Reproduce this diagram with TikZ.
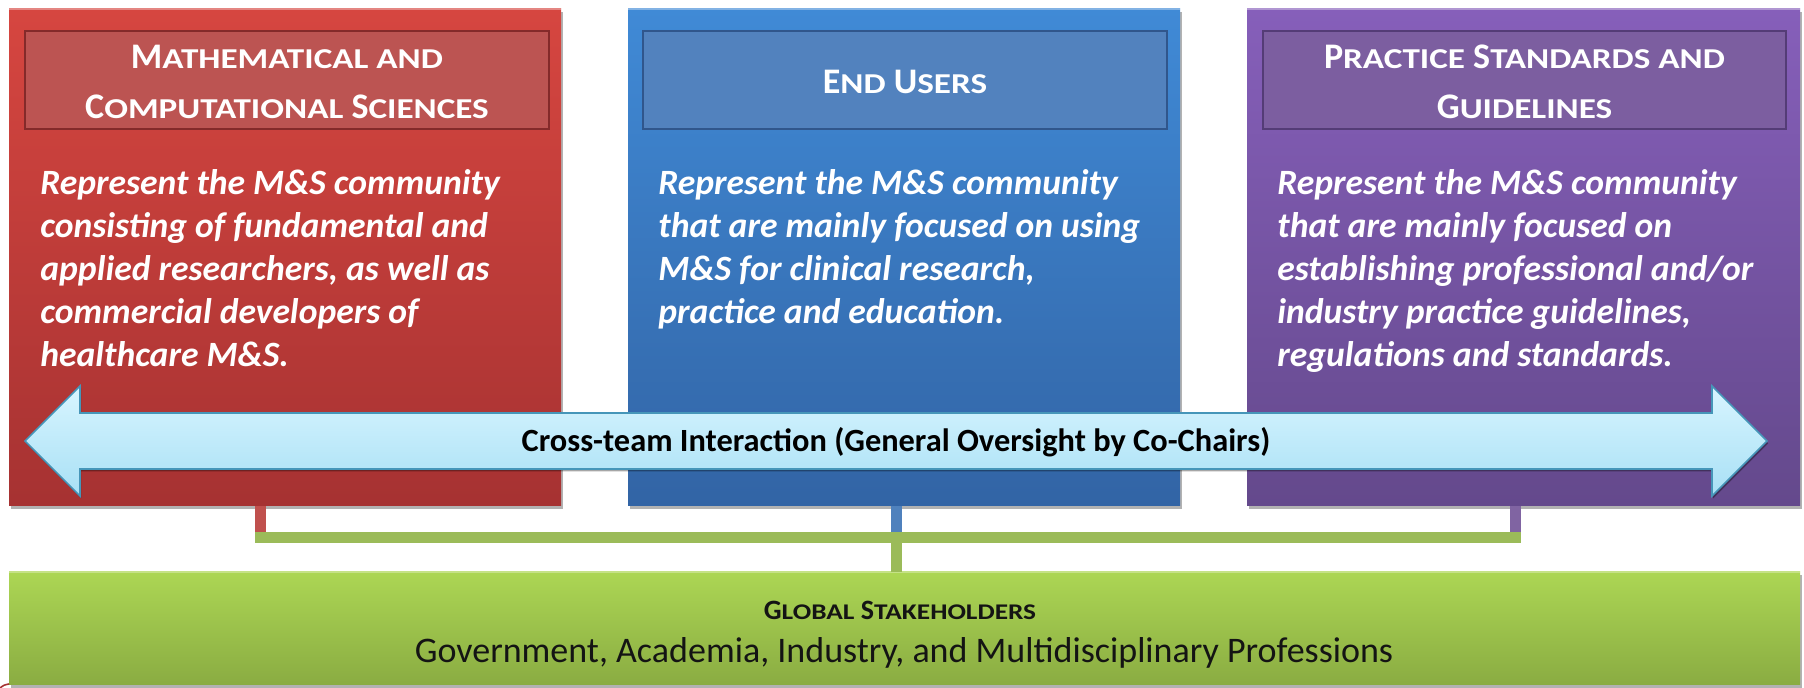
\documentclass[tikz,border=0pt]{standalone}
\usepackage{graphicx}
\usepackage{fontspec}
\setmainfont{Carlito}
\usetikzlibrary{shadows}

% panel gradients (top / bottom)
\definecolor{redTop}{RGB}{214,70,64}
\definecolor{redBot}{RGB}{166,50,50}
\definecolor{blueTop}{RGB}{64,138,214}
\definecolor{blueBot}{RGB}{50,100,165}
\definecolor{purTop}{RGB}{134,95,186}
\definecolor{purBot}{RGB}{100,73,140}
\definecolor{grnTop}{RGB}{172,214,84}
\definecolor{grnBot}{RGB}{138,172,66}
% title bars
\definecolor{redHead}{RGB}{188,84,82}
\definecolor{redHeadEdge}{RGB}{132,42,42}
\definecolor{blueHead}{RGB}{82,130,190}
\definecolor{blueHeadEdge}{RGB}{48,86,140}
\definecolor{purHead}{RGB}{124,94,160}
\definecolor{purHeadEdge}{RGB}{84,60,118}
% double arrow
\definecolor{arrTop}{RGB}{216,245,255}
\definecolor{arrBot}{RGB}{168,224,245}
\definecolor{arrEdge}{RGB}{70,150,185}
% connectors
\definecolor{lnRed}{RGB}{192,80,77}
\definecolor{lnBlue}{RGB}{79,129,189}
\definecolor{lnPur}{RGB}{128,100,162}
\definecolor{lnGrn}{RGB}{155,187,89}
\definecolor{inkDark}{RGB}{20,20,20}

% small capitals: reduced, slightly widened upper-case letters
\newcommand{\sk}[2][14.4pt]{\scalebox{1.22}[1]{\fontsize{#1}{18pt}\selectfont #2}}

\begin{document}
\begin{tikzpicture}[x=0.5pt,y=-0.5pt,
  panel/.style={rectangle, inner sep=0, draw=none,
    drop shadow={shadow xshift=0.8pt, shadow yshift=-1.6pt, opacity=0.3, fill=black}},
  headbar/.style={rectangle, inner sep=0, line width=1.2pt,
    minimum height=49pt},
  titletext/.style={inner sep=0, text=white, font=\bfseries},
  bodytext/.style={inner sep=0, text=white},
  stub/.style={line width=5.5pt},
  bar/.style={line width=5.5pt, draw=lnGrn, line cap=rect},
  bevel/.style={draw=white, opacity=0.35, line width=1.2pt}
]
\useasboundingbox (0,0) rectangle (1804,688);

% junction points of the org connectors
\coordinate (jr) at (260,538);
\coordinate (jb) at (896,538);
\coordinate (jp) at (1515,538);

% ---------------- three team panels ----------------
\node[panel, minimum width=276pt, minimum height=248.5pt,
      top color=redTop, bottom color=redBot] (red) at (285,257.5) {};
\node[panel, minimum width=276pt, minimum height=248.5pt,
      top color=blueTop, bottom color=blueBot] (blue) at (904,257.5) {};
\node[panel, minimum width=276.5pt, minimum height=248.5pt,
      top color=purTop, bottom color=purBot] (purple) at (1523.5,257.5) {};
\draw[bevel] (red.north west) -- (red.north east);
\draw[bevel] (blue.north west) -- (blue.north east);
\draw[bevel] (purple.north west) -- (purple.north east);

% title bars
\node[headbar, minimum width=262pt, fill=redHead, draw=redHeadEdge] (redhead) at (287,80) {};
\node[headbar, minimum width=262pt, fill=blueHead, draw=blueHeadEdge] (bluehead) at (905,80) {};
\node[headbar, minimum width=261.5pt, fill=purHead, draw=purHeadEdge] (purhead) at (1524.5,80) {};

% titles
\node[titletext, anchor=base] (redtitle) at (287,69)
  {\parbox[t]{262pt}{\centering\fontsize{18pt}{25pt}\selectfont\bfseries
   M\sk{ATHEMATICAL AND}\\C\sk{OMPUTATIONAL} S\sk{CIENCES}}};
\node[titletext, anchor=base] (bluetitle) at (905,94)
  {\fontsize{18pt}{25pt}\selectfont\bfseries E\sk{ND} U\sk{SERS}};
\node[titletext, anchor=base] (purtitle) at (1524.5,69)
  {\parbox[t]{262pt}{\centering\fontsize{18pt}{25pt}\selectfont\bfseries
   P\sk{RACTICE} S\sk{TANDARDS AND}\\G\sk{UIDELINES}}};

% descriptions
\node[bodytext, anchor=base west] (redbody) at (40,195)
  {\parbox[t]{270pt}{\raggedright\fontsize{17.8pt}{21.5pt}\selectfont\bfseries\itshape
   Represent the M\&S community\\
   consisting of fundamental and\\
   applied researchers, as well as\\
   commercial developers of\\
   healthcare M\&S.}};
\node[bodytext, anchor=base west] (bluebody) at (658,195)
  {\parbox[t]{270pt}{\raggedright\fontsize{17.8pt}{21.5pt}\selectfont\bfseries\itshape
   Represent the M\&S community\\
   that are mainly focused on using\\
   M\&S for clinical research,\\
   practice and education.}};
\node[bodytext, anchor=base west] (purbody) at (1277,195)
  {\parbox[t]{270pt}{\raggedright\fontsize{17.8pt}{21.5pt}\selectfont\bfseries\itshape
   Represent the M\&S community\\
   that are mainly focused on\\
   establishing professional and/or\\
   industry practice guidelines,\\
   regulations and standards.}};

% ---------------- cross-team double arrow ----------------
\path[top color=arrTop, bottom color=arrBot, draw=arrEdge, line width=0.8pt,
      line join=miter,
      drop shadow={shadow xshift=0.6pt, shadow yshift=-1.2pt, opacity=0.35, fill=black}]
  (25,441) -- (80,386) -- (80,413) -- (1712,413) -- (1712,386) -- (1767,441)
  -- (1712,496) -- (1712,469) -- (80,469) -- (80,496) -- cycle;
\node[inner sep=0, text=black] (cross) at (896,442)
  {\fontsize{16.2pt}{18pt}\selectfont\bfseries Cross-team Interaction (General Oversight by Co-Chairs)};

% ---------------- stakeholder panel ----------------
\node[panel, minimum width=895.5pt, minimum height=56.5pt,
      top color=grnTop, bottom color=grnBot] (green) at (904.5,628.5) {};
\draw[draw=white, opacity=0.3, line width=1.5pt] (green.north west) -- (green.north east);
\node[inner sep=0, text=inkDark, anchor=base] (gtitle) at (900,620)
  {\fontsize{14pt}{16pt}\selectfont\bfseries G\sk[11.2pt]{LOBAL} S\sk[11.2pt]{TAKEHOLDERS}};
\node[inner sep=0, text=inkDark, anchor=base] (gsub) at (904,663)
  {\fontsize{18pt}{20pt}\selectfont Government, Academia, Industry, and Multidisciplinary Professions};

% ---------------- org connectors ----------------
\draw[stub, draw=lnRed] (red.south -| jr) -- (jr);
\draw[stub, draw=lnBlue] (blue.south -| jb) -- (jb);
\draw[stub, draw=lnPur] (purple.south -| jp) -- (jp);
\draw[bar] (jr) -- (jp);
\draw[stub, draw=lnGrn] (jb) -- (green.north -| jb);

% small red stroke at the lower left corner
\draw[draw=redBot, line width=0.8pt] (0,688) .. controls (4,685) .. (9,684);
\end{tikzpicture}
\end{document}
